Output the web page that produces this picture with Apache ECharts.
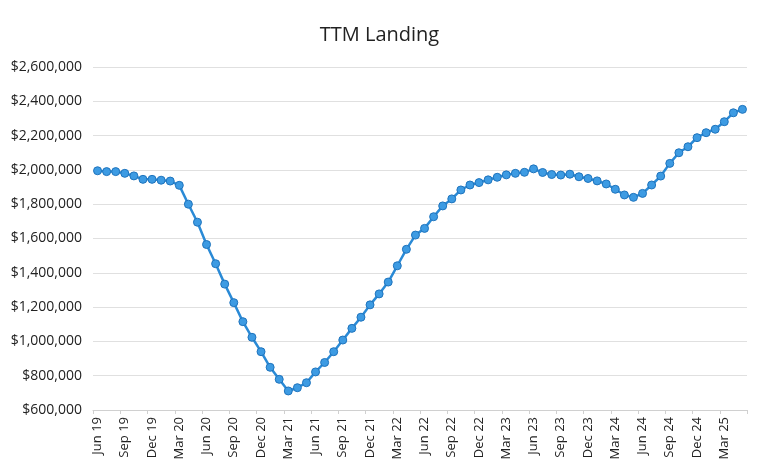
<!DOCTYPE html>
<html><head><meta charset="utf-8">
<script src="https://cdn.jsdelivr.net/npm/echarts@6/dist/echarts.min.js"></script>
<style>html,body{margin:0;padding:0;background:#fff}#c{width:759px;height:473px}</style>
</head><body><div id="c"></div>
<script>
const categories = [
 "Jun 19","Jul 19","Aug 19","Sep 19","Oct 19","Nov 19","Dec 19",
 "Jan 20","Feb 20","Mar 20","Apr 20","May 20","Jun 20","Jul 20","Aug 20","Sep 20","Oct 20","Nov 20","Dec 20",
 "Jan 21","Feb 21","Mar 21","Apr 21","May 21","Jun 21","Jul 21","Aug 21","Sep 21","Oct 21","Nov 21","Dec 21",
 "Jan 22","Feb 22","Mar 22","Apr 22","May 22","Jun 22","Jul 22","Aug 22","Sep 22","Oct 22","Nov 22","Dec 22",
 "Jan 23","Feb 23","Mar 23","Apr 23","May 23","Jun 23","Jul 23","Aug 23","Sep 23","Oct 23","Nov 23","Dec 23",
 "Jan 24","Feb 24","Mar 24","Apr 24","May 24","Jun 24","Jul 24","Aug 24","Sep 24","Oct 24","Nov 24","Dec 24",
 "Jan 25","Feb 25","Mar 25","Apr 25","May 25"
];
const ttmLanding = [
 1995000,1990000,1990000,1980000,1965000,1945000,1945000,
 1940000,1935000,1910000,1800000,1695000,1565000,1453000,1334000,1226000,1115000,1024000,940000,
 849000,779000,711000,730000,759000,822000,877000,940000,1008000,1076000,1141000,1213000,
 1277000,1346000,1441000,1537000,1620000,1659000,1727000,1790000,1831000,1883000,1912000,1926000,
 1942000,1957000,1971000,1980000,1986000,2006000,1985000,1973000,1970000,1975000,1960000,1950000,
 1936000,1918000,1887000,1854000,1840000,1863000,1912000,1964000,2038000,2100000,2135000,2188000,
 2217000,2237000,2281000,2333000,2353000
];
const yMin = 600000, yMax = 2600000, yStep = 200000;
const titleText = "TTM Landing";

const chart = echarts.init(document.getElementById('c'), null, {renderer:'canvas'});
chart.setOption({
  animation:false,
  backgroundColor:'#fff',
  title:{text:titleText,left:'center',top:20,textStyle:{fontFamily:'Open Sans',fontSize:20,fontWeight:'normal',color:'#222'}},
  grid:{left:93,right:12,top:67,bottom:63},
  xAxis:{type:'category',data:categories,boundaryGap:true,
    axisLine:{lineStyle:{color:'#d0d0d0'}},
    axisTick:{show:true,interval:2,length:4,lineStyle:{color:'#d0d0d0'}},
    axisLabel:{interval:2,rotate:90,margin:7,color:'#222',fontFamily:'Open Sans',fontSize:13}},
  yAxis:{type:'value',min:yMin,max:yMax,interval:yStep,
    axisLine:{show:false},axisTick:{show:false},
    splitLine:{lineStyle:{color:'#e0e0e0',width:1}},
    axisLabel:{margin:11,color:'#222',fontFamily:'Open Sans',fontSize:14,
      formatter:v=>'$'+v.toLocaleString('en-US')}},
  series:[{type:'line',data:ttmLanding,symbol:'circle',symbolSize:8,showAllSymbol:true,
    lineStyle:{color:'#2a8ad6',width:2.5},
    itemStyle:{color:'#3d9be3',borderColor:'#1f74bd',borderWidth:1}}]
});
</script></body></html>
